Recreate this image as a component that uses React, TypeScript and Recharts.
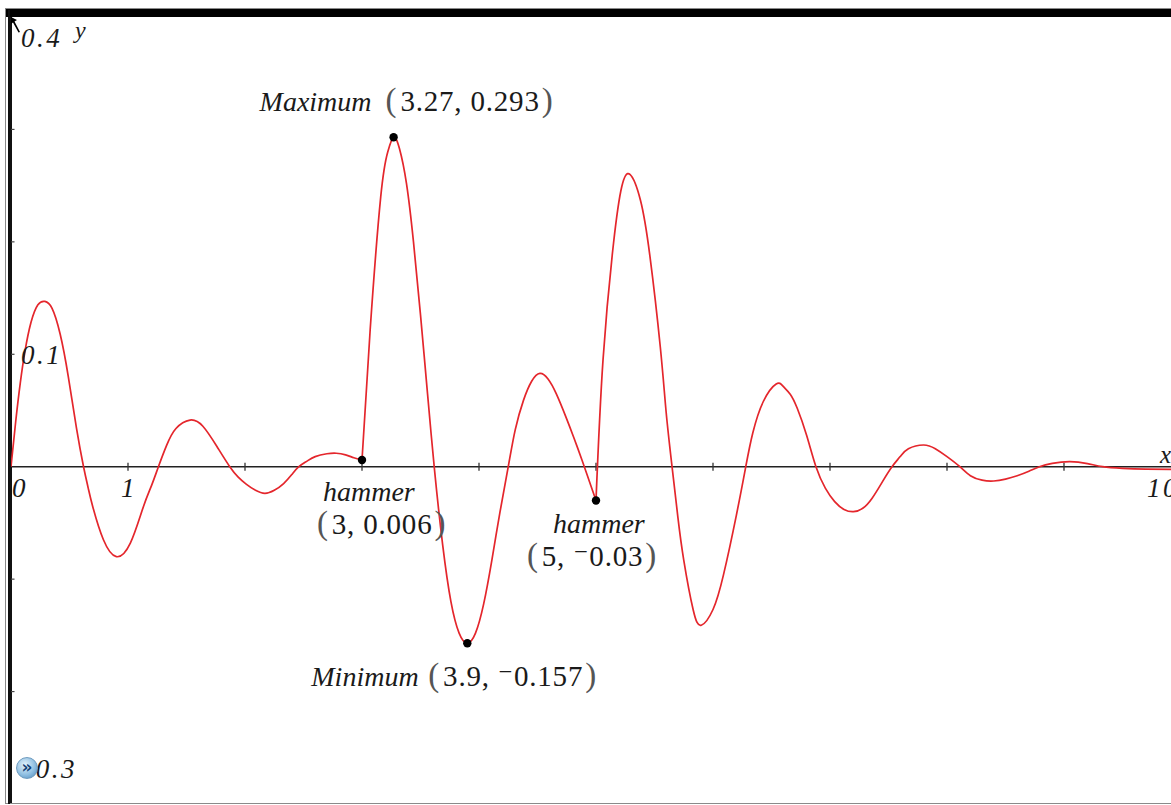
import React from 'react'
import { LineChart, Line, XAxis, YAxis, ReferenceLine, ReferenceDot } from 'recharts'

// curve, x then y
const xs = [
  0, 0.04, 0.08, 0.12, 0.17, 0.23, 0.29, 0.35, 0.42, 0.49, 0.56, 0.62,
  0.66, 0.7, 0.79, 0.9, 1.02, 1.13, 1.2, 1.26,
  1.33, 1.41, 1.53, 1.64, 1.76, 1.87,
  1.94, 2.01, 2.09, 2.17, 2.25, 2.33, 2.4, 2.46,
  2.53, 2.6, 2.7, 2.78, 2.86, 2.93, 3,
  3.07, 3.16, 3.22, 3.27, 3.32, 3.38, 3.44, 3.5, 3.56, 3.62, 3.69, 3.76, 3.83, 3.9,
  3.97, 4.04, 4.11, 4.18, 4.25, 4.31, 4.38, 4.45, 4.52, 4.59, 4.66, 4.74, 4.81, 4.88, 4.94, 5,
  5.06, 5.15, 5.22, 5.29, 5.38, 5.46, 5.55, 5.6, 5.65, 5.7, 5.75, 5.83, 5.9,
  6, 6.09, 6.2, 6.28, 6.34, 6.43, 6.54, 6.6, 6.66, 6.72, 6.8, 6.88, 6.96, 7.04, 7.12, 7.2,
  7.28, 7.36, 7.45, 7.53, 7.6, 7.67, 7.8, 7.9, 8, 8.11,
  8.2, 8.3, 8.4, 8.5, 8.6, 8.7, 8.79, 8.9, 9.05, 9.2, 9.33, 9.5, 9.7, 10,
]
const ys = [
  0, 0.04, 0.075, 0.103, 0.128, 0.144, 0.147, 0.141, 0.118, 0.08, 0.034, 0,
  -0.019, -0.036, -0.065, -0.08, -0.068, -0.036, -0.017, 0,
  0.019, 0.034, 0.0415, 0.036, 0.018, 0,
  -0.009, -0.0155, -0.021, -0.0237, -0.021, -0.015, -0.007, 0,
  0.005, 0.009, 0.0115, 0.012, 0.0105, 0.008, 0.006,
  0.122, 0.24, 0.28, 0.293, 0.283, 0.252, 0.2, 0.135, 0.065, -0.003, -0.07, -0.12, -0.148, -0.157,
  -0.148, -0.122, -0.083, -0.04, 0, 0.033, 0.059, 0.076, 0.083, 0.078, 0.065, 0.045, 0.026, 0.006, -0.012, -0.03,
  0.095, 0.199, 0.249, 0.26, 0.237, 0.188, 0.106, 0.048, 0, -0.045, -0.083, -0.127, -0.141,
  -0.127, -0.096, -0.043, 0, 0.03, 0.058, 0.0736, 0.0715, 0.0645, 0.052, 0.028, 0, -0.019, -0.031, -0.038, -0.04,
  -0.037, -0.028, -0.013, 0, 0.009, 0.016, 0.0193, 0.016, 0.009, 0,
  -0.008, -0.012, -0.0127, -0.011, -0.008, -0.004, 0, 0.003, 0.0045, 0.0028, 0, -0.0015, -0.0022, -0.0025,
]

// hammer blows split the curve into pieces
const hammerX = [3, 5]

const xTicks = [1, 2, 3, 4, 5, 6, 7, 8, 9]
const yTicks = [-0.2, -0.1, 0.1, 0.2, 0.3]
const xMin = 0
const xMax = 10
const yMin = -0.3
const yMax = 0.4
const yFirstTick = 0.1
const xFirstTick = 1

const markNames = ['Maximum', 'hammer', 'hammer', 'Minimum']
const markX = [3.27, 3, 5, 3.9]
const markY = [0.293, 0.006, -0.03, -0.157]

const data = xs.map((x, i) => ({
  x,
  a: x <= hammerX[0] ? ys[i] : null,
  b: x >= hammerX[0] && x <= hammerX[1] ? ys[i] : null,
  c: x >= hammerX[1] ? ys[i] : null,
}))

const serif = '"Liberation Serif", "DejaVu Serif", serif'
const ink = '#1a1a1a'
const red = '#e4262c'

const fmt = (v: number) => String(v).replace('-', '\u207B')

const Coords = ({ x, y, i }: { x: number; y: number; i: number }) => (
  <text x={x} y={y} fontFamily={serif} fontSize={29} fill={ink} letterSpacing={0.8}>
    <tspan fontSize={33} fill="#555" fontWeight={300}>(</tspan>
    <tspan dx={3}>{fmt(markX[i])}, {fmt(markY[i])}</tspan>
    <tspan dx={2} fontSize={33} fill="#555" fontWeight={300}>)</tspan>
  </text>
)

const Name = ({ x, y, i }: { x: number; y: number; i: number }) => (
  <text x={x} y={y} fontFamily={serif} fontStyle="italic" fontSize={28} fill={ink}>
    {markNames[i]}
  </text>
)

const Dot = ({ cx, cy }: any) => <circle cx={cx} cy={cy} r={4.2} fill="#000" />

const tickText = (label: string, dx: number, dy: number, anchor = 'start', size = 27) =>
  (p: any) => (
    <text
      x={p.cx + dx}
      y={p.cy + dy}
      textAnchor={anchor}
      fontFamily={serif}
      fontStyle="italic"
      fontSize={size}
      letterSpacing={2.5}
      fill={ink}
    >
      {label}
    </text>
  )

export default function App() {
  return (
    <div
      style={{
        position: 'absolute', left: 0, top: 0, width: 1171, height: 805,
        overflow: 'hidden', background: '#fff',
      }}
    >
      <div style={{ position: 'absolute', left: 0, top: 0 }}>
        <LineChart width={1190} height={805} data={data} margin={{ top: 17, right: 9, bottom: 1, left: 11 }}>
          <XAxis dataKey="x" type="number" domain={[xMin, xMax]} hide allowDataOverflow />
          <YAxis type="number" domain={[yMin, yMax]} hide allowDataOverflow />

          <ReferenceLine y={0} stroke="#222" strokeWidth={1.5} />
          <ReferenceLine x={0} stroke="#111" strokeWidth={2} />
          {xTicks.map((t) => (
            <ReferenceLine
              key={'xt' + t}
              segment={[{ x: t, y: -0.0035 }, { x: t, y: 0.0035 }]}
              stroke="#333"
              strokeWidth={1.3}
            />
          ))}
          {yTicks.map((t) => (
            <ReferenceLine
              key={'yt' + t}
              segment={[{ x: 0, y: t }, { x: 0.03, y: t }]}
              stroke="#444"
              strokeWidth={1.2}
            />
          ))}

          {['a', 'b', 'c'].map((k) => (
            <Line
              key={k}
              type="natural"
              dataKey={k}
              stroke={red}
              strokeWidth={1.7}
              dot={false}
              connectNulls={false}
              isAnimationActive={false}
            />
          ))}

          {/* axis labels */}
          <ReferenceDot x={xMin} y={0} r={0} shape={tickText('0', 1, 30)} />
          <ReferenceDot x={xFirstTick} y={0} r={0} shape={tickText('1', 1, 30, 'middle')} />
          <ReferenceDot x={xMax} y={0} r={0} shape={tickText('10', -2, 30, 'end')} />
          <ReferenceDot x={xMax} y={0} r={0} shape={tickText('x', -21, -4, 'start', 25)} />
          <ReferenceDot x={0} y={yMax} r={0} shape={tickText('0.4', 10, 30)} />
          <ReferenceDot x={0} y={yMax} r={0} shape={tickText('y', 64, 21, 'start', 24)} />
          <ReferenceDot x={0} y={yFirstTick} r={0} shape={tickText('0.1', 10, 10)} />
          <ReferenceDot x={0} y={yMin} r={0} shape={tickText('\u207B0.3', 8, -26)} />

          {/* traced points */}
          <ReferenceDot
            x={markX[0]}
            y={markY[0]}
            r={4}
            shape={(p: any) => (
              <g>
                <Dot {...p} />
                <Name x={p.cx - 134} y={p.cy - 26} i={0} />
                <Coords x={p.cx - 8} y={p.cy - 26} i={0} />
              </g>
            )}
          />
          <ReferenceDot
            x={markX[1]}
            y={markY[1]}
            r={4}
            shape={(p: any) => (
              <g>
                <Dot {...p} />
                <Name x={p.cx - 39} y={p.cy + 41} i={1} />
                <Coords x={p.cx - 45} y={p.cy + 74} i={1} />
              </g>
            )}
          />
          <ReferenceDot
            x={markX[2]}
            y={markY[2]}
            r={4}
            shape={(p: any) => (
              <g>
                <Dot {...p} />
                <Name x={p.cx - 43} y={p.cy + 33} i={2} />
                <Coords x={p.cx - 69} y={p.cy + 66} i={2} />
              </g>
            )}
          />
          <ReferenceDot
            x={markX[3]}
            y={markY[3]}
            r={4}
            shape={(p: any) => (
              <g>
                <Dot {...p} />
                <Name x={p.cx - 156} y={p.cy + 43} i={3} />
                <Coords x={p.cx - 39} y={p.cy + 43} i={3} />
              </g>
            )}
          />
        </LineChart>
      </div>

      {/* window frame, on top of the plot */}
      <div style={{ position: 'absolute', left: 5, top: 8, width: 1200, height: 796, border: '1px solid #8a8a8a', boxSizing: 'border-box' }} />
      <div style={{ position: 'absolute', left: 6, top: 9, width: 1200, height: 8, background: '#000' }} />
      <div style={{ position: 'absolute', left: 8, top: 10, width: 2, height: 794, background: '#111' }} />

      {/* pointer arrow at the top of the y axis */}
      <svg style={{ position: 'absolute', left: 9, top: 16 }} width={14} height={18}>
        <path d="M2 1 L8 4 L5.5 5.5 L11 16 L9.5 16.5 L4 6.5 L2 8 Z" fill="#000" />
      </svg>

      {/* little page button */}
      <div
        style={{
          position: 'absolute', left: 16, top: 757, width: 22, height: 22, borderRadius: '50%',
          background: 'radial-gradient(circle at 40% 35%, #e6f3fb 0%, #8fbfe2 55%, #4a86b8 100%)',
          border: '1px solid #6f9cc0', boxSizing: 'border-box',
          color: '#123f75', fontFamily: '"DejaVu Sans", sans-serif', fontWeight: 700,
          fontSize: 17, lineHeight: '18px', textAlign: 'center',
        }}
      >
        »
      </div>
    </div>
  )
}
